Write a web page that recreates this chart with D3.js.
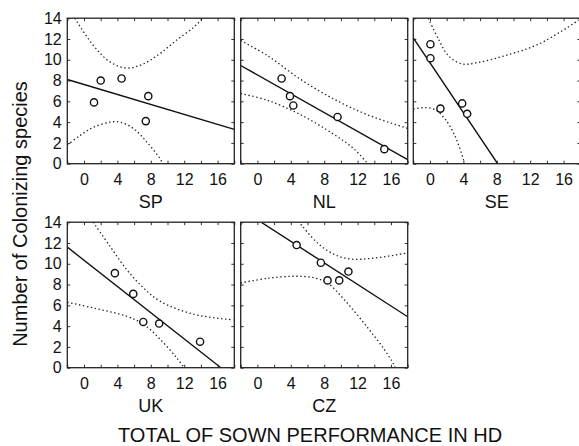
<!DOCTYPE html>
<html>
<head>
<meta charset="utf-8">
<script src="https://cdn.jsdelivr.net/npm/d3@7"></script>
<style>
  body { margin: 0; background: #fff; }
  text { font-family: Arial, "Liberation Sans", sans-serif; fill: #111; }
</style>
</head>
<body>
<div id="chart"></div>
<script>
// valores
const xTickLabels = [0, 4, 8, 12, 16];
const yTickLabels = [0, 2, 4, 6, 8, 10, 12, 14];
const panelNames = ["SP", "NL", "SE", "UK", "CZ"];

const spPoints = [[1.2, 5.9], [2.0, 8.0], [4.5, 8.2], [7.4, 4.1], [7.7, 6.5]];
const spFit = [[-2, 8.1], [18, 3.3]];
const spUpper = [[-1.1, 14], [1.1, 11.4], [3.1, 9.8], [5.1, 9.2], [7.1, 9.6], [9.1, 10.6], [11.1, 11.9], [13.1, 13.1], [14.1, 13.9]];
const spLower = [[-2, 1.8], [-0.5, 2.7], [1.1, 3.5], [3.1, 4.0], [4.3, 4.0], [5.9, 3.4], [7.5, 2.1], [9.1, 0.5], [9.4, 0]];

const nlPoints = [[2.9, 8.2], [3.9, 6.5], [4.3, 5.6], [9.6, 4.5], [15.2, 1.4]];
const nlFit = [[-2, 9.45], [18, 0.4]];
const nlUpper = [[-2, 11.85], [1.2, 10.4], [5.2, 8.1], [9.2, 6.2], [13.2, 4.7], [18, 3.4]];
const nlLower = [[-2, 6.75], [1.2, 6.1], [5.2, 4.7], [9.2, 2.8], [11.6, 1.4], [13.2, 0]];

const sePoints = [[0.05, 11.5], [0.05, 10.15], [1.25, 5.3], [3.85, 5.8], [4.45, 4.8]];
const seFit = [[-2, 12.1], [8.1, 0]];
const seUpper = [[-0.2, 14], [1.0, 12.0], [2.2, 10.4], [3.8, 9.6], [5.8, 9.75], [9.0, 10.4], [13.0, 11.5], [17.8, 13.8]];
const seLower = [[-2, 5.25], [-0.6, 5.4], [0.6, 5.2], [1.8, 4.3], [3.0, 2.65], [4.0, 0.4], [4.1, 0]];

const ukPoints = [[3.7, 9.1], [5.9, 7.1], [7.1, 4.4], [9.0, 4.25], [13.9, 2.5]];
const ukFit = [[-2, 11.6], [16.4, 0]];
const ukUpper = [[1.1, 14], [3.1, 11.7], [5.1, 9.45], [7.1, 7.7], [9.1, 6.4], [13.1, 5.15], [17.9, 4.6]];
const ukLower = [[-2, 6.3], [1.1, 5.75], [5.1, 4.95], [7.1, 4.2], [9.1, 2.75], [11.1, 0.95], [12.0, 0]];

const czPoints = [[4.7, 11.8], [7.6, 10.1], [8.4, 8.4], [9.8, 8.4], [10.9, 9.25]];
const czFit = [[0.45, 14], [18, 4.9]];
const czUpper = [[5.2, 13.8], [7.2, 12.0], [9.2, 10.9], [11.2, 10.45], [14.0, 10.55], [18, 11.05]];
const czLower = [[-2, 8.15], [1.2, 8.6], [4.4, 8.8], [6.8, 8.65], [8.4, 8.15], [10.4, 6.55], [13.2, 3.85], [15.2, 1.75], [16.3, 0.35], [16.5, 0]];

const panels = [
  { name: panelNames[0], points: spPoints, fit: spFit, upper: spUpper, lower: spLower },
  { name: panelNames[1], points: nlPoints, fit: nlFit, upper: nlUpper, lower: nlLower },
  { name: panelNames[2], points: sePoints, fit: seFit, upper: seUpper, lower: seLower },
  { name: panelNames[3], points: ukPoints, fit: ukFit, upper: ukUpper, lower: ukLower },
  { name: panelNames[4], points: czPoints, fit: czFit, upper: czUpper, lower: czLower }
];

const svgWidth = 579;
const svgHeight = 446;
const panelW = 167;
const panelH = 145.5;
const colX = [67.3, 240.7, 413.3];
const rowY = [18.2, 222.2];

const svg = d3.select("#chart")
  .append("svg")
  .attr("width", svgWidth)
  .attr("height", svgHeight);

const xScale = d3.scaleLinear().domain([-2, 18]).range([0, panelW]);
const yScale = d3.scaleLinear().domain([0, 14]).range([panelH, 0]);

const line = d3.line().x(d => xScale(d[0])).y(d => yScale(d[1]));
const curve = d3.line().x(d => xScale(d[0])).y(d => yScale(d[1])).curve(d3.curveCatmullRom.alpha(0.5));

const xMinor = d3.range(-2, 19, 2);
const yMinor = d3.range(0, 15, 2);

panels.forEach((p, i) => {
  const col = i % 3, row = Math.floor(i / 3);
  const g = svg.append("g")
    .attr("transform", `translate(${colX[col]},${rowY[row]})`);

  g.append("clipPath").attr("id", "clip" + i)
    .append("rect").attr("width", panelW).attr("height", panelH);

  // ticks hacia adentro
  g.append("g")
    .attr("transform", `translate(0,${panelH})`)
    .call(d3.axisBottom(xScale).tickValues(xMinor).tickSize(-3).tickPadding(9.6)
      .tickFormat(d => xTickLabels.includes(d) ? d : ""));
  g.append("g").call(d3.axisTop(xScale).tickValues(xMinor).tickSize(-3).tickFormat(""));
  g.append("g").attr("transform", `translate(${panelW},0)`)
    .call(d3.axisRight(yScale).tickValues(yMinor).tickSize(-3).tickFormat(""));
  g.append("g")
    .call(d3.axisLeft(yScale).tickValues(yMinor).tickSize(-3).tickPadding(5.6)
      .tickFormat(d => col === 0 && yTickLabels.includes(d) ? d : ""));

  g.selectAll(".domain").remove();
  g.selectAll(".tick line").attr("stroke", "#333").attr("stroke-width", 1);
  g.selectAll(".tick text")
    .style("font-family", "Arial, 'Liberation Sans', sans-serif")
    .style("font-size", "16px")
    .attr("fill", "#111");

  const plot = g.append("g").attr("clip-path", `url(#clip${i})`);

  plot.append("path").datum(p.upper)
    .attr("d", curve).attr("fill", "none")
    .attr("stroke", "#222").attr("stroke-width", 1.3)
    .attr("stroke-dasharray", "1.4,2.6");
  plot.append("path").datum(p.lower)
    .attr("d", curve).attr("fill", "none")
    .attr("stroke", "#222").attr("stroke-width", 1.3)
    .attr("stroke-dasharray", "1.4,2.6");
  plot.append("path").datum(p.fit)
    .attr("d", line).attr("fill", "none")
    .attr("stroke", "#111").attr("stroke-width", 1.4);

  plot.selectAll("circle").data(p.points).enter().append("circle")
    .attr("cx", d => xScale(d[0]))
    .attr("cy", d => yScale(d[1]))
    .attr("r", 3.6)
    .attr("fill", "#fff")
    .attr("stroke", "#111")
    .attr("stroke-width", 1.4);

  g.append("rect")
    .attr("width", panelW).attr("height", panelH)
    .attr("fill", "none").attr("stroke", "#222").attr("stroke-width", 1.3);

  g.append("text")
    .attr("x", panelW / 2).attr("y", panelH + 44.5)
    .attr("text-anchor", "middle")
    .style("font-size", "18px")
    .text(p.name);
});

svg.append("text")
  .attr("transform", "translate(27,214) rotate(-90)")
  .attr("text-anchor", "middle")
  .style("font-size", "20px")
  .text("Number of Colonizing species");

svg.append("text")
  .attr("x", 118).attr("y", 442)
  .style("font-size", "20px")
  .text("TOTAL OF SOWN PERFORMANCE IN HD");
</script>
</body>
</html>
